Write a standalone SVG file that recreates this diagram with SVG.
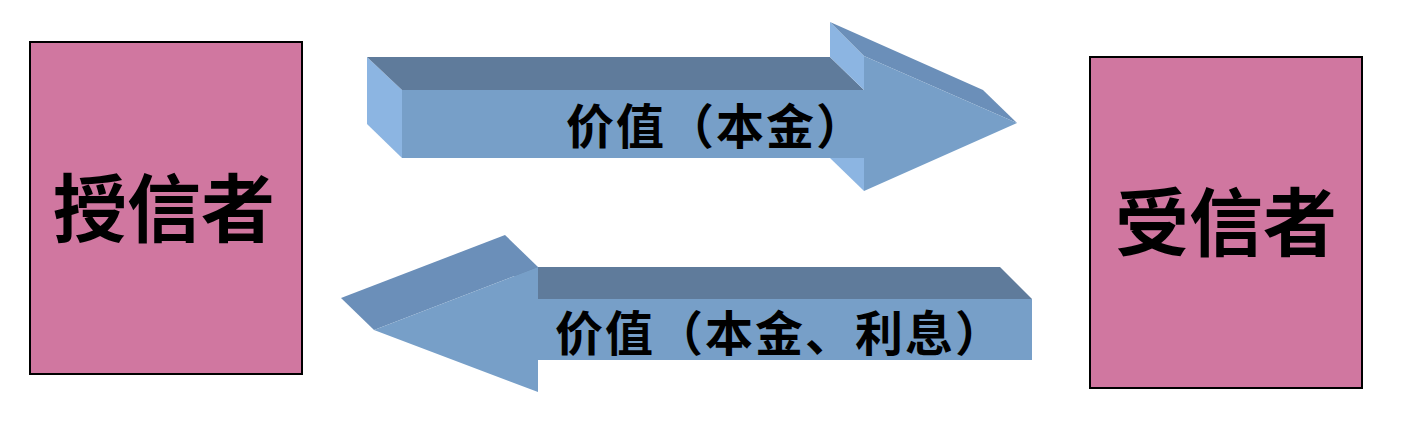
<svg xmlns="http://www.w3.org/2000/svg" width="1405" height="422" viewBox="0 0 1405 422">
<style>
.box{fill:#d077a0;stroke:#000;stroke-width:2}
.front{fill:#779fc8}
.top{fill:#5f7b9b}
.light{fill:#8cb5e2}
.slant{fill:#6b8fb9}
.big{font-family:"Noto Sans CJK SC","Noto Sans CJK TC",sans-serif;font-size:74px;font-weight:bold;fill:#000;text-anchor:middle}
.lbl{font-family:"Noto Sans CJK SC","Noto Sans CJK TC",sans-serif;font-size:48px;font-weight:bold;letter-spacing:2px;fill:#000}
</style>
<rect width="1405" height="422" fill="#fff"/>
<g id="connectors">
  <g id="arrow-principal">
    <polygon class="light" points="367,57 402,90 402,158 367,124"/>
    <polygon class="top" points="367,57 830,57 864,90 402,90"/>
    <polygon class="light" points="830,22 864,56 864,90 830,57"/>
    <polygon class="light" points="830,124 864,158 864,191 830,158"/>
    <polygon class="slant" points="830,22 983,90 1017,123 864,56"/>
    <polygon class="front" points="402,90 864,90 864,56 1017,123 864,191 864,158 402,158"/>
    <text class="lbl" x="566" y="144">价值（本金）</text>
  </g>
  <g id="arrow-return">
    <polygon class="top" points="505,267 1000,267 1032,299 538,299"/>
    <polygon class="slant" points="505,235 341,298 374,330 538,267"/>
    <polygon class="front" points="1032,299 538,299 538,267 374,330 538,392 538,360 1032,360"/>
    <text class="lbl" x="555" y="351">价值（本金、利息）</text>
  </g>
</g>
<g id="lender">
  <rect class="box" x="30" y="42" width="272" height="332"/>
  <text class="big" x="164" y="236">授信者</text>
</g>
<g id="borrower">
  <rect class="box" x="1090" y="57" width="272" height="331"/>
  <text class="big" x="1226" y="250">受信者</text>
</g>
</svg>
